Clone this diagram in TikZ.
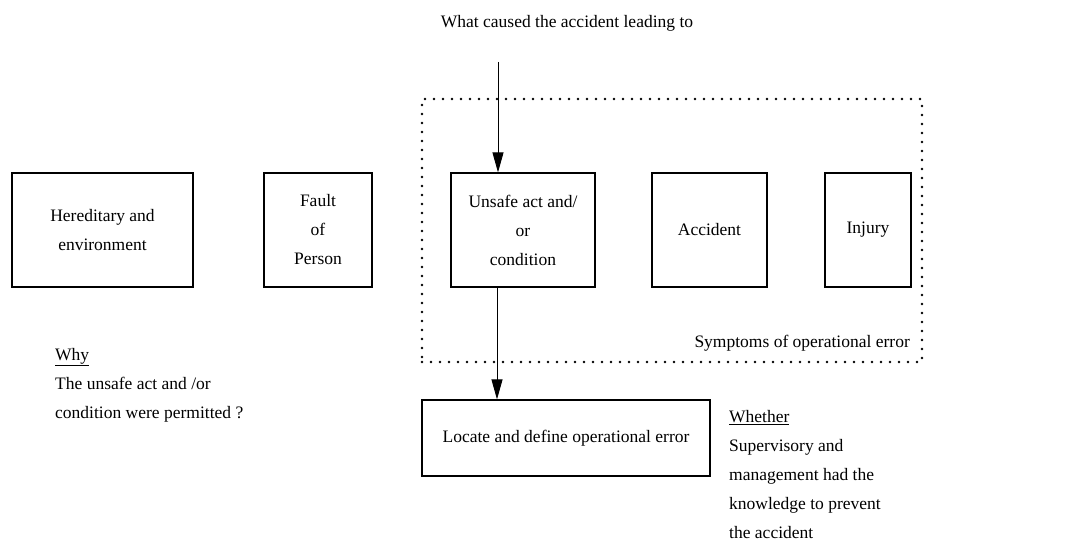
\documentclass[tikz,border=0pt]{standalone}
\usepackage{fontspec}
\setmainfont{Liberation Serif}
\usetikzlibrary{arrows.meta}
\begin{document}
\begin{tikzpicture}[x=1pt,y=-1pt,
  box/.style={draw,line width=1.2pt,inner sep=0pt,align=center,font=\fontsize{17.5}{29}\selectfont},
  txt/.style={inner sep=0pt,align=left,font=\fontsize{17.5}{29}\selectfont},
  arr/.style={line width=0.9pt,-{Triangle[length=20pt,width=11pt]}},
  dotbox/.style={draw,line width=2.8pt,dash pattern=on 0pt off 9pt,line cap=round}]
\useasboundingbox (0,0) rectangle (1087,545);
\node[dotbox,minimum width=500pt,minimum height=263pt] (symp) at (672,230.5) {};
\node[box,minimum width=181pt,minimum height=114pt] (her) at (102.5,230) {Hereditary and\\environment};
\node[box,minimum width=108pt,minimum height=114pt] (fault) at (318,230) {Fault\\of\\Person};
\node[box,minimum width=144pt,minimum height=114pt] (unsafe) at (523,230) {Unsafe act and/\\or\\condition};
\node[box,minimum width=115pt,minimum height=114pt] (acc) at (709.5,230) {Accident};
\node[box,minimum width=86pt,minimum height=114pt] (inj) at (868,230) {Injury};
\node[box,minimum width=288pt,minimum height=76pt] (locate) at (566,438) {Locate and define operational error};
\node[txt] (top) at (567,23) {What caused the accident leading to};
\node[txt,anchor=east] (symtxt) at (910,343) {Symptoms of operational error};
\node[txt,anchor=north west] (why) at (55,348) {\underline{Why}\\The unsafe act and /or\\condition were permitted ?};
\node[txt,anchor=north west] (whether) at (729,410) {\underline{Whether}\\Supervisory and\\management had the\\knowledge to prevent\\the accident};
\coordinate (a1) at (498,62);
\coordinate (a2) at (497,300);
\draw[arr] (a1) -- (a1 |- unsafe.north);
\draw[arr] (unsafe.south -| a2) -- (a2 |- locate.north);
\end{tikzpicture}
\end{document}
